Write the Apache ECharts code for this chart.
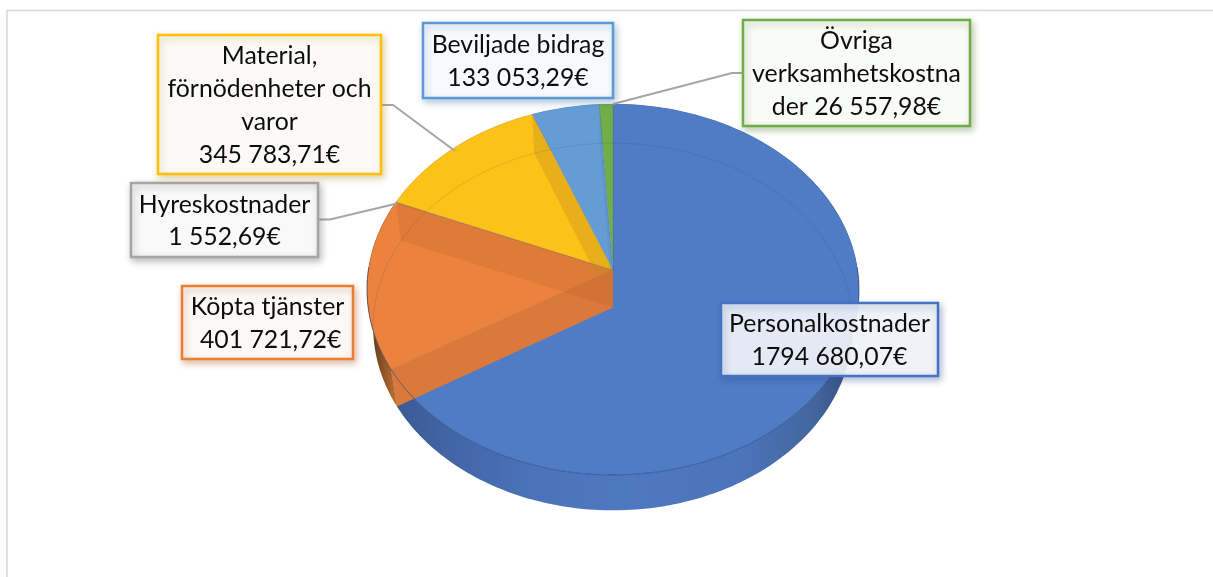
<!DOCTYPE html>
<html>
<head>
<meta charset="utf-8">
<title>Kostnader</title>
<script src="https://cdn.jsdelivr.net/npm/echarts@6/dist/echarts.min.js"></script>
<style>
  html, body { margin: 0; padding: 0; background: #fff; }
  #chart { width: 1213px; height: 577px; }
</style>
</head>
<body>
<div id="chart"></div>
<script>
const categories = ['Personalkostnader', 'Köpta tjänster', 'Hyreskostnader', 'Material, förnödenheter och varor', 'Beviljade bidrag', 'Övriga verksamhetskostnader']
const values = [1794680.07, 401721.72, 1552.69, 345783.71, 133053.29, 26557.98]
const labelTexts = [
  'Personalkostnader\n1794 680,07€',
  'Köpta tjänster\n 401 721,72€',
  'Hyreskostnader\n1 552,69€',
  'Material,\nförnödenheter och\nvaror\n345 783,71€',
  'Beviljade bidrag\n133 053,29€',
  'Övriga\nverksamhetskostna\nder 26 557,98€'
]
const topColors = ['#507CC6', '#EB833E', '#A5A5A5', '#FDC217', '#649DD6', '#71AE48']
const lineColors = ['#4472C4', '#ED7D31', '#A5A5A5', '#FFC000', '#5B9BD5', '#70AD47']
const boxFills = ['rgba(245,247,251,0.9)', '#FCF8F5', '#F9F9F9', '#FBFAF6', '#F7FAFD', '#F9FBF7']
const shadowColors = ['rgba(50,80,140,0.4)', 'rgba(170,90,40,0.4)', 'rgba(110,110,110,0.45)', 'rgba(170,130,20,0.35)', 'rgba(70,120,170,0.4)', 'rgba(90,130,60,0.4)']

// callout rectangles [x, y, w, h] and leader lines, same order as categories
const boxRects = [[721, 303, 217, 73], [182, 286, 171, 73], [131, 183, 187, 74], [158, 35, 223, 139], [423, 23, 190, 75], [743, 20, 227, 106]]
const leaders = [null, null, [[318, 219.5], [330, 219.5], [397, 203.5]], [[381, 105], [393, 105], [455, 151]], null, [[743, 73], [732, 73], [613, 104]]]

// 3d look of the disc: perspective circle with a dropped copy underneath
const CX = 613
const CY = 270
const RX = 244.6
const RY = 183.4
const PERSP = 0.105
const DROP = 37.5
const total = values.reduce((a, b) => a + b, 0)

function project(theta, dropped) {
  const u = Math.sin(theta)
  const v = Math.cos(theta)
  const w = 1 + PERSP * v
  const sx = dropped ? 0.975 : 1
  const sy = dropped ? 0.99 : 1
  return [CX + RX * sx * u / w, CY + (dropped ? DROP : 0) - RY * sy * v / w]
}

function arc(a0, a1, dropped) {
  const n = Math.max(2, Math.ceil((a1 - a0) / 0.02))
  const pts = []
  for (let i = 0; i <= n; i++) pts.push(project(a0 + (a1 - a0) * i / n, dropped))
  return pts
}

function arcWhere(a0, a1, dropped, test) {
  const n = Math.max(2, Math.ceil((a1 - a0) / 0.02))
  const pts = []
  for (let i = 0; i <= n; i++) {
    const a = a0 + (a1 - a0) * i / n
    if (test(Math.cos(a))) pts.push(project(a, dropped))
  }
  return pts
}

function wall(theta) {
  return [[CX, CY], project(theta, false), project(theta, true), [CX, CY + DROP]]
}

function sideFill(i) {
  if (i === 0) {
    return new echarts.graphic.LinearGradient(0, 0, 1, 0, [
      { offset: 0, color: '#3A5A91' },
      { offset: 0.12, color: '#4264A5' },
      { offset: 0.3, color: '#4A73B9' },
      { offset: 0.5, color: '#4E78C0' },
      { offset: 0.75, color: '#4C74BA' },
      { offset: 0.9, color: '#4466A0' },
      { offset: 1, color: '#324B78' }
    ])
  }
  if (i === 1) {
    return new echarts.graphic.LinearGradient(0, 0, 1, 0, [
      { offset: 0, color: '#4F2E14' },
      { offset: 0.45, color: '#8A5226' },
      { offset: 1, color: '#D07A38' }
    ])
  }
  return topColors[i]
}

function renderSlice(params, api) {
  const i = params.dataIndex
  let before = 0
  for (let k = 0; k < i; k++) before += values[k]
  const a0 = before / total * Math.PI * 2
  const a1 = (before + api.value(0)) / total * Math.PI * 2
  const children = []

  const top = arc(a0, a1, false)
  const under = arc(a0, a1, true).reverse()
  children.push({ type: 'polygon', z2: 1, shape: { points: top.concat(under) }, style: { fill: sideFill(i) } })
  children.push({
    type: 'polygon',
    z2: 2,
    shape: { points: [[CX, CY]].concat(top) },
    style: { fill: topColors[i], stroke: i === 1 ? 'rgba(190,100,40,0.7)' : 'rgba(50,70,110,0.2)', lineWidth: 0.7 }
  })

  // cut faces that show through the top
  if (i === 4) {
    children.push({ type: 'polygon', z2: 3, shape: { points: wall(a1) }, style: { fill: 'rgba(70,120,170,0.2)' } })
  }
  if (i === 3) {
    children.push({ type: 'polygon', z2: 3, shape: { points: wall(a1) }, style: { fill: 'rgba(200,150,30,0.42)' } })
  }
  if (i === 1) {
    children.push({ type: 'polygon', z2: 4, shape: { points: wall(a0) }, style: { fill: '#D9793B' } })
    children.push({ type: 'polygon', z2: 5, shape: { points: wall(a1) }, style: { fill: 'rgba(195,100,40,0.28)' } })
  }

  // thin rims: back of the lower disc and front of the upper one
  const back = arcWhere(a0, a1, true, c => c > -0.12)
  if (back.length > 1) {
    children.push({ type: 'polyline', z2: 6, shape: { points: back }, style: { fill: null, stroke: 'rgba(30,40,70,0.16)', lineWidth: 0.8 } })
  }
  const front = arcWhere(a0, a1, false, c => c < 0.02)
  if (front.length > 1) {
    children.push({ type: 'polyline', z2: 6, shape: { points: front }, style: { fill: null, stroke: 'rgba(30,60,120,0.6)', lineWidth: 0.9 } })
  }
  return { type: 'group', children }
}

function renderCallout(params) {
  const i = params.dataIndex
  const r = boxRects[i]
  const children = []
  if (leaders[i]) {
    children.push({ type: 'polyline', z2: 20, shape: { points: leaders[i] }, style: { fill: null, stroke: '#A5A5A5', lineWidth: 2 } })
  }
  children.push({
    type: 'rect',
    z2: 21,
    shape: { x: r[0], y: r[1], width: r[2], height: r[3] },
    style: {
      fill: boxFills[i],
      stroke: lineColors[i],
      lineWidth: 2.5,
      shadowBlur: 7,
      shadowOffsetX: 2,
      shadowOffsetY: 3,
      shadowColor: shadowColors[i]
    }
  })
  children.push({
    type: 'text',
    z2: 22,
    style: {
      text: labelTexts[i],
      x: r[0] + r[2] / 2,
      y: r[1] + r[3] / 2 + 1,
      align: 'center',
      verticalAlign: 'middle',
      fill: '#0D0D0D',
      font: '24.8px Lato, Carlito, sans-serif',
      lineHeight: 32.7
    }
  })
  return { type: 'group', children }
}

const chart = echarts.init(document.getElementById('chart'), null, { renderer: 'canvas' })
chart.setOption({
  animation: false,
  backgroundColor: '#fff',
  graphic: [{
    type: 'polyline',
    shape: { points: [[7, 577], [7, 10.5], [1213, 10.5]] },
    style: { fill: null, stroke: '#D9D9D9', lineWidth: 1.6 }
  }],
  series: [
    { type: 'custom', name: 'Kostnader', coordinateSystem: 'none', silent: true, renderItem: renderSlice, data: values },
    { type: 'custom', name: 'Etiketter', coordinateSystem: 'none', silent: true, renderItem: renderCallout, data: values }
  ]
})
window.addEventListener('resize', () => chart.resize())
</script>
</body>
</html>
